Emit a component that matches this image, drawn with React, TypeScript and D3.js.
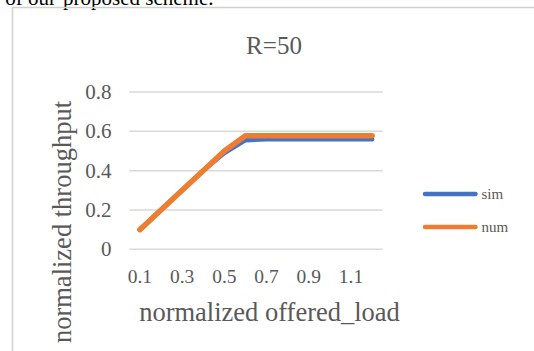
import React from 'react';
import * as d3 from 'd3';

// chart data
const categories = ['0.1', '0.2', '0.3', '0.4', '0.5', '0.6', '0.7', '0.8', '0.9', '1.0', '1.1', '1.2'];
const simValues = [0.1, 0.2, 0.3, 0.4, 0.49, 0.555, 0.56, 0.56, 0.56, 0.56, 0.56, 0.56];
const numValues = [0.1, 0.2, 0.3, 0.4, 0.5, 0.578, 0.578, 0.578, 0.578, 0.578, 0.578, 0.578];
const yTicks = [0, 0.2, 0.4, 0.6, 0.8];
const xTickLabels = ['0.1', '0.3', '0.5', '0.7', '0.9', '1.1'];

const series = [
  { name: 'sim', values: simValues, color: '#4472C4', width: 4.5 },
  { name: 'num', values: numValues, color: '#ED7D31', width: 5.5 },
];

const FONT = '"Liberation Serif", "Times New Roman", serif';
const TEXT = '#595959';
const GRID = '#d9d9d9';

const App = () => {
  const width = 534;
  const height = 351;

  const x = d3.scaleBand().domain(categories).range([129.3, 382.7]).padding(0);
  const y = d3.scaleLinear().domain([0, 0.8]).range([249.3, 92]);

  const line = d3
    .line<number>()
    .x((_, i) => (x(categories[i]) as number) + x.bandwidth() / 2)
    .y((d) => y(d));

  return (
    <svg
      width={width}
      height={height}
      style={{ position: 'absolute', left: 0, top: 0, background: '#fff' }}
      fontFamily={FONT}
    >
      {/* body text of the document, cut at the top */}
      <text x={56} y={4.5} textAnchor="end" fontSize={21} fill="#000">
        6) of our
      </text>
      <text x={63} y={4.5} fontSize={21} fill="#000">
        proposed scheme.
      </text>

      {/* chart frame */}
      <line x1={12} x2={534} y1={7.5} y2={7.5} stroke="#d0d0d0" strokeWidth={1.5} />
      <line x1={12.5} x2={12.5} y1={7} y2={351} stroke="#d0d0d0" strokeWidth={1.5} />

      {/* title */}
      <text x={274} y={53.5} textAnchor="middle" fontSize={25} fill={TEXT}>
        R=50
      </text>

      {/* gridlines and y labels */}
      {yTicks.map((t) => (
        <g key={t}>
          <line x1={129.3} x2={382.7} y1={y(t)} y2={y(t)} stroke={GRID} strokeWidth={1.5} />
          <text x={111.5} y={y(t)} dy="0.33em" textAnchor="end" fontSize={21} fill={TEXT}>
            {String(t)}
          </text>
        </g>
      ))}

      {/* x labels, every other category */}
      {xTickLabels.map((c) => (
        <text
          key={c}
          x={(x(c) as number) + x.bandwidth() / 2}
          y={282.8}
          textAnchor="middle"
          fontSize={19.5}
          fill={TEXT}
        >
          {c}
        </text>
      ))}

      {/* axis titles */}
      <text x={269.5} y={320.5} textAnchor="middle" fontSize={26.5} fill={TEXT}>
        normalized offered_load
      </text>
      <text
        transform="translate(71,222) rotate(-90)"
        textAnchor="middle"
        fontSize={26.5}
        fill={TEXT}
      >
        normalized throughput
      </text>

      {/* series */}
      {series.map((s) => (
        <path
          key={s.name}
          d={line(s.values) as string}
          fill="none"
          stroke={s.color}
          strokeWidth={s.width}
          strokeLinecap="round"
          strokeLinejoin="round"
        />
      ))}

      {/* legend */}
      {series.map((s, i) => (
        <g key={s.name} transform={`translate(0,${194 + i * 33})`}>
          <line x1={425} x2={475.5} y1={0} y2={0} stroke={s.color} strokeWidth={4.5} strokeLinecap="round" />
          <text x={481.5} y={4.5} fontSize={15} fill={TEXT}>
            {s.name}
          </text>
        </g>
      ))}
    </svg>
  );
};

export default App;
